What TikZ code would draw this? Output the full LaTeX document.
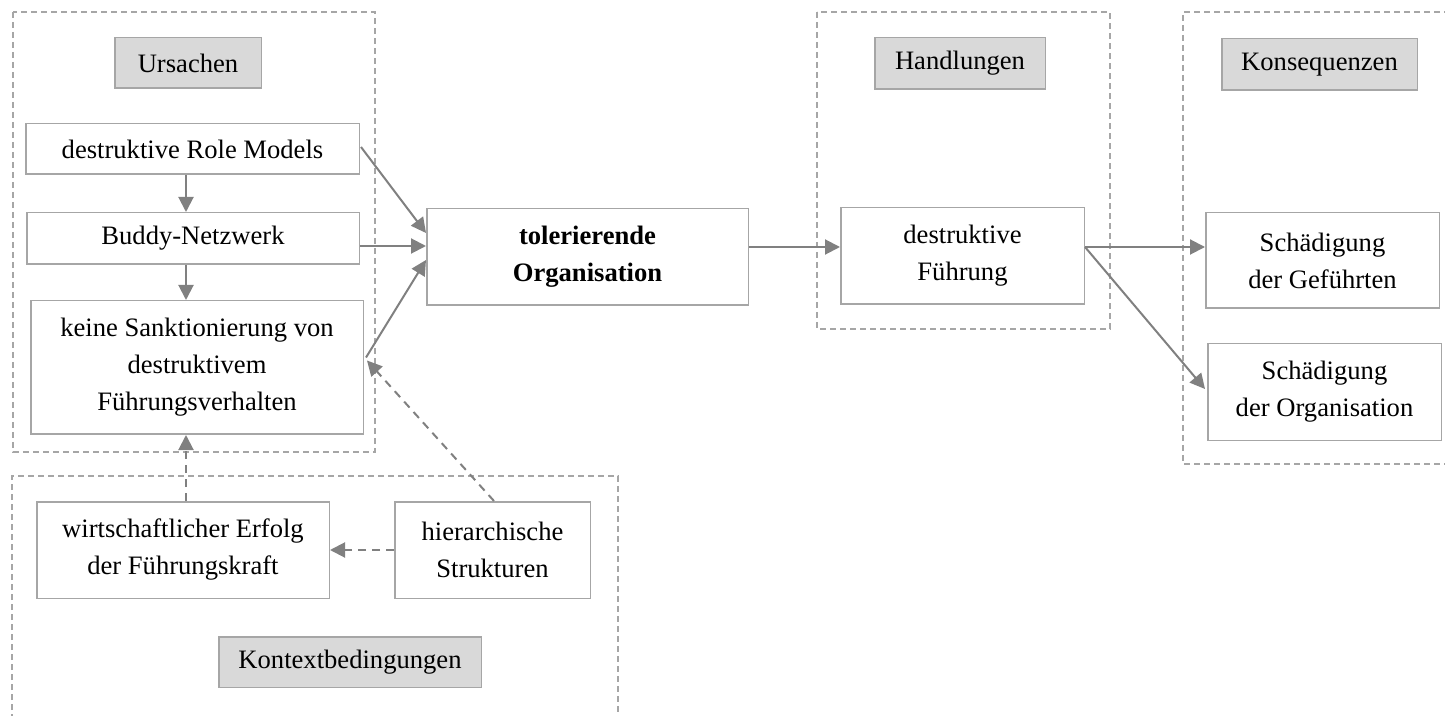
\documentclass[tikz,border=0pt]{standalone}
\usepackage{fontspec}
\setmainfont{Liberation Serif}
\usetikzlibrary{arrows.meta,calc}
\definecolor{boxline}{HTML}{A6A6A6}
\definecolor{arrowc}{HTML}{808080}
\definecolor{labfill}{HTML}{D9D9D9}
\definecolor{framec}{HTML}{A6A6A6}
\tikzset{
  box/.style={draw=boxline, line width=0.75pt, fill=white, inner sep=0pt, align=center,
    font=\fontsize{13.3}{18.5}\selectfont},
  lab/.style={box, fill=labfill},
  frame/.style={draw=framec, line width=0.6pt, dash pattern=on 3pt off 2pt},
  arr/.style={draw=arrowc, line width=1pt, -{Triangle[length=7.5pt,width=7.5pt]}},
  darr/.style={arr, dash pattern=on 4pt off 3pt},
}
\newcommand{\bx}[6]{\node[#1, minimum width=#4*0.5pt-0.75pt, minimum height=#5*0.5pt-0.75pt] (#2) at (#3) {#6};}
\begin{document}
\begin{tikzpicture}[x=0.5pt,y=-0.5pt]
\useasboundingbox (0,0) rectangle (1445,716);
% frames
\draw[frame] (13,12) rectangle (375,452);
\draw[frame] (817,12) rectangle (1110,329);
\draw[frame] (1460,12) -- (1183,12) -- (1183,464) -- (1460,464);
\draw[frame] (12,730) -- (12,476) -- (618,476) -- (618,730);
% labels
\bx{lab}{ursL}{188,63}{148}{52}{Ursachen}
\bx{lab}{handL}{960,63.5}{172}{53}{Handlungen}
\bx{lab}{konsL}{1319.5,64.5}{197}{53}{Konsequenzen}
\bx{lab}{kontL}{350,662}{264}{52}{Kontextbedingungen}
% boxes
\bx{box}{role}{192.5,149}{335}{52}{destruktive Role Models}
\bx{box}{buddy}{193,238.5}{334}{53}{Buddy-Netzwerk}
\bx{box}{keine}{197,367.5}{334}{135}{keine Sanktionierung von\\destruktivem\\Führungsverhalten}
\bx{box}{tol}{587.5,257}{323}{98}{\bfseries tolerierende\\\bfseries Organisation}
\bx{box}{df}{962.5,256}{245}{98}{destruktive\\Führung}
\bx{box}{sg}{1322.5,260.5}{235}{97}{Schädigung\\der Geführten}
\bx{box}{so}{1324.5,392}{235}{98}{Schädigung\\der Organisation}
\bx{box}{wirt}{183,550}{294}{98}{wirtschaftlicher Erfolg\\der Führungskraft}
\bx{box}{hier}{492.5,550}{197}{98}{hierarchische\\Strukturen}
% helper coordinates
\coordinate (cx) at (186,0);
\coordinate (tolA) at ($(tol.west)+(0,-24)$);
\coordinate (tolB) at ($(tol.west)+(0,-11)$);
\coordinate (tolC) at ($(tol.west)+(0,3)$);
\coordinate (keineOut) at ($(keine.east)+(2,-10)$);
\coordinate (keineIn) at ($(keine.east)+(3,-7)$);
\coordinate (tolOut) at ($(tol.east)+(0,-10)$);
\coordinate (dfOut) at ($(df.east)+(0,-9)$);
\coordinate (soIn) at ($(so.west)+(-2,-3)$);
\coordinate (hierTop) at ($(hier.north)+(1.5,0)$);
% arrows
\draw[arr] (role.south -| cx) -- (buddy.north -| cx);
\draw[arr] (buddy.south -| cx) -- (keine.north -| cx);
\draw[arr] ($(role.east)+(1,-2)$) -- (tolA);
\draw[arr] (buddy.east |- tolB) -- (tolB);
\draw[arr] (keineOut) -- (tolC);
\draw[arr] (tolOut) -- (df.west |- tolOut);
\draw[arr] (dfOut) -- (sg.west |- dfOut);
\draw[arr] (dfOut) -- (soIn);
\draw[darr] (hierTop) -- (keineIn);
\draw[darr] (wirt.north -| cx) -- (keine.south -| cx);
\draw[darr] (hier.west) -- (wirt.east);
\end{tikzpicture}
\end{document}
